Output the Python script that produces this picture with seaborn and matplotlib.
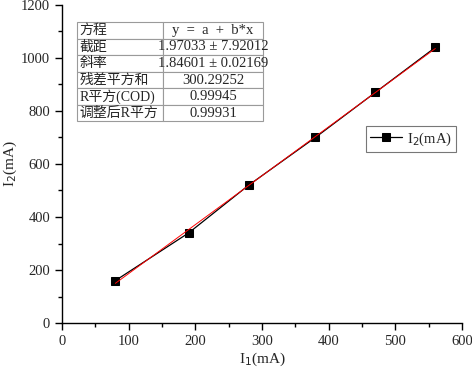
import numpy as np
import pandas as pd
import matplotlib
matplotlib.use("Agg")
import matplotlib.pyplot as plt
import seaborn as sns
from matplotlib.ticker import MultipleLocator

# data
i1 = [80, 190, 280, 380, 470, 560]
i2 = [160, 340, 520, 700, 870, 1040]

# fit results shown in the table
intercept = 1.97033
slope = 1.84601
table_labels = ["方程", "截距", "斜率", "残差平方和", "R平方(COD)", "调整后R平方"]
table_values = ["y  =  a  +  b*x", "1.97033 ± 7.92012", "1.84601 ± 0.02169",
                "300.29252", "0.99945", "0.99931"]

sns.set_style("ticks")
plt.rcParams['font.family'] = ['Liberation Serif', 'Noto Sans CJK SC', 'DejaVu Sans']
plt.rcParams['axes.unicode_minus'] = False

df = pd.DataFrame({"I1": i1, "I2": i2})
fit_x = np.array([min(i1), max(i1)])
fit = pd.DataFrame({"x": fit_x, "y": intercept + slope * fit_x})

fig = plt.figure(figsize=(4.72, 3.72), dpi=100)
ax = fig.add_axes([0.1314, 0.1317, 0.8474, 0.8549])

sns.lineplot(data=df, x="I1", y="I2", ax=ax, color="black", marker="s",
             markersize=5.5, markeredgecolor="black", linewidth=0.9,
             label="I$_2$(mA)")
sns.lineplot(data=fit, x="x", y="y", ax=ax, color="red", linewidth=0.7,
             legend=False)

ax.set_xlim(0, 600)
ax.set_ylim(0, 1200)
ax.xaxis.set_major_locator(MultipleLocator(100))
ax.xaxis.set_minor_locator(MultipleLocator(50))
ax.yaxis.set_major_locator(MultipleLocator(200))
ax.yaxis.set_minor_locator(MultipleLocator(100))
ax.tick_params(which="major", length=5, width=1.0, labelsize=10.5, color="black")
ax.tick_params(which="minor", length=3, width=1.0, color="black")
for s in ["top", "right"]:
    ax.spines[s].set_visible(False)
for s in ["left", "bottom"]:
    ax.spines[s].set_linewidth(1.0)
    ax.spines[s].set_color("black")

ax.set_xlabel("I$_1$(mA)", fontsize=11, labelpad=2)
ax.set_ylabel("I$_2$(mA)", fontsize=11)
ax.yaxis.set_label_coords(-0.108, 0.5)

leg = ax.legend(loc="center", bbox_to_anchor=(0.872, 0.579), fontsize=10.5,
                frameon=True, fancybox=False, edgecolor="#555555",
                handlelength=2.2, borderpad=0.3, handletextpad=0.3)
leg.get_frame().set_linewidth(0.8)

# fit table
tab = ax.table(cellText=[[a, b] for a, b in zip(table_labels, table_values)],
               colWidths=[0.215, 0.25], cellLoc="center",
               bbox=[0.0375, 0.634, 0.465, 0.312])
tab.auto_set_font_size(False)
tab.set_fontsize(10)
for (r, c), cell in tab.get_celld().items():
    cell.set_edgecolor("#9a9a9a")
    cell.set_linewidth(0.8)
    if c == 0:
        cell.get_text().set_ha("left")
        cell.PAD = 0.03
    else:
        cell.get_text().set_fontsize(10.5)

fig.savefig("out.png", dpi=100)
